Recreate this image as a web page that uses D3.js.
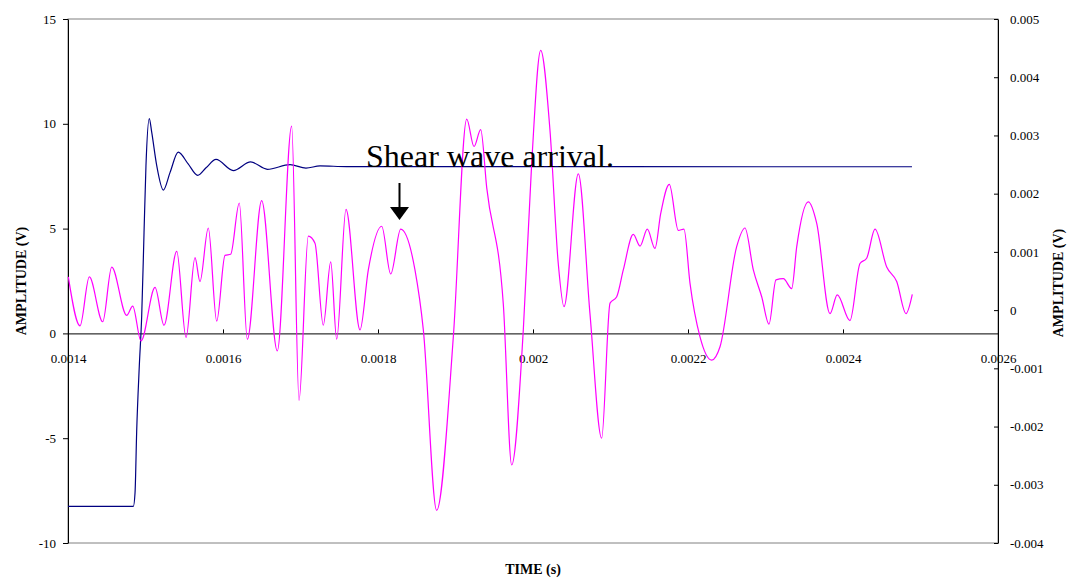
<!DOCTYPE html>
<html>
<head>
<meta charset="utf-8">
<script src="https://cdn.jsdelivr.net/npm/d3@7"></script>
<style>
  body { margin: 0; background: #fff; }
  svg { display: block; font-family: "Liberation Serif", "Times New Roman", serif; }
</style>
</head>
<body>
<div id="chart"></div>
<script>
// Shear wave test: input pulse (blue, left axis) and received signal (magenta, right axis)

// input signal, left axis (V)
const blueTime = [0.0014, 0.0014843, 0.0014865, 0.0014886, 0.0014920, 0.0014951, 0.0014981, 0.0015006,
  0.0015049, 0.0015080, 0.0015145, 0.0015230, 0.0015316, 0.0015423, 0.0015548, 0.0015674, 0.0015781,
  0.0015910, 0.0016133, 0.0016357, 0.0016572, 0.0016865, 0.0017071, 0.0017252, 0.0017596, 0.0024890];
const blueVolt = [-8.25, -8.25, -7.6, -4.7, -1.56, 0.83, 4.8, 8.0,
  10.25, 9.6, 8.0, 6.84, 7.67, 8.65, 8.1, 7.54, 7.9,
  8.3, 7.77, 8.18, 7.83, 8.05, 7.89, 7.99, 7.96, 7.95];

// received signal, right axis (V)
const pinkTime = [0.0014004, 0.0014155, 0.0014275, 0.0014448, 0.0014564, 0.0014757, 0.0014835, 0.0014942,
  0.0015123, 0.0015239, 0.0015403, 0.0015523, 0.0015639, 0.0015703, 0.0015810, 0.0015919, 0.0016026,
  0.0016099, 0.0016210, 0.0016314, 0.0016499, 0.0016701, 0.0016886, 0.0016981, 0.0017101, 0.0017187,
  0.0017294, 0.0017390, 0.0017467, 0.0017587, 0.0017768, 0.0017875, 0.0018048, 0.0018164, 0.0018293,
  0.0018477, 0.0018585, 0.0018757, 0.0018972, 0.0019145, 0.0019239, 0.0019325, 0.0019403, 0.0019617,
  0.0019725, 0.0019875, 0.0019983, 0.0020099, 0.0020219, 0.0020326, 0.0020400, 0.0020585, 0.0020735,
  0.0020886, 0.0020994, 0.0021080, 0.0021165, 0.0021294, 0.0021381, 0.0021475, 0.0021574, 0.0021648,
  0.0021759, 0.0021875, 0.0021948, 0.0022026, 0.0022155, 0.0022306, 0.0022413, 0.0022628, 0.0022735,
  0.0022843, 0.0022951, 0.0023045, 0.0023135, 0.0023230, 0.0023338, 0.0023403, 0.0023552, 0.0023661,
  0.0023832, 0.0023926, 0.0024090, 0.0024219, 0.0024305, 0.0024413, 0.0024564, 0.0024693, 0.0024813,
  0.0024894];
const pinkVolt = [0.00057, -0.00027, 0.00057, -0.00020, 0.00074, -0.00009, 0.00007, -0.00053,
  0.00039, -0.00026, 0.00101, -0.00047, 0.00090, 0.00049, 0.00141, -0.00019, 0.00094,
  0.00096, 0.00184, -0.00050, 0.00188, -0.00070, 0.00316, -0.00155, 0.00127, 0.00115,
  -0.00026, 0.00083, -0.00050, 0.00173, -0.00034, 0.00069, 0.00144, 0.00062, 0.00139,
  0.00069, -0.00034, -0.00344, -0.00046, 0.00328, 0.00281, 0.00310, 0.00210, 0.00010,
  -0.00266, -0.00034, 0.00252, 0.00446, 0.00309, 0.00080, 0.00006, 0.00234, -0.00006,
  -0.00220, 0.00012, 0.00023, 0.00069, 0.00130, 0.00110, 0.00139, 0.00106, 0.00166,
  0.00216, 0.00137, 0.00139, 0.00046, -0.00046, -0.00086, -0.00063, 0.00109, 0.00141,
  0.00069, 0.00023, -0.00024, 0.00052, 0.00054, 0.00037, 0.00109, 0.00186, 0.00149,
  -0.00006, 0.00026, -0.00018, 0.00080, 0.00089, 0.00139, 0.00074, 0.00049, -0.00006,
  0.00027];

// tick values
const timeTicks = [0.0014, 0.0016, 0.0018, 0.002, 0.0022, 0.0024, 0.0026];
const leftTicks = [-10, -5, 0, 5, 10, 15];
const rightTicks = [-0.004, -0.003, -0.002, -0.001, 0, 0.001, 0.002, 0.003, 0.004, 0.005];

const WIDTH = 1071, HEIGHT = 585;
const plot = {left: 68, right: 998, top: 19, bottom: 543};

const svg = d3.select("#chart").append("svg")
  .attr("width", WIDTH)
  .attr("height", HEIGHT);

svg.append("rect").attr("width", WIDTH).attr("height", HEIGHT).attr("fill", "#fff");

// scales
const x = d3.scaleLinear().domain([0.0014, 0.0026]).range([plot.left, plot.right]);
const yL = d3.scaleLinear().domain([-10, 15]).range([plot.bottom, plot.top]);
const yR = d3.scaleLinear().domain([-0.004, 0.005]).range([plot.bottom, plot.top]);

const fmt = d => String(+d.toFixed(4));

// plot area border
svg.append("rect")
  .attr("x", plot.left).attr("y", plot.top)
  .attr("width", plot.right - plot.left).attr("height", plot.bottom - plot.top)
  .attr("fill", "none").attr("stroke", "#808080").attr("stroke-width", 1);

// axes
const gL = svg.append("g").attr("transform", `translate(${plot.left},0)`)
  .call(d3.axisLeft(yL).tickValues(leftTicks).tickFormat(fmt).tickSizeInner(5).tickSizeOuter(0).tickPadding(7));
const gR = svg.append("g").attr("transform", `translate(${plot.right},0)`)
  .call(d3.axisRight(yR).tickValues(rightTicks).tickFormat(fmt).tickSizeInner(-4).tickSizeOuter(0).tickPadding(12));
const gX = svg.append("g").attr("transform", `translate(0,${yL(0)})`)
  .call(d3.axisBottom(x).tickValues(timeTicks).tickFormat(fmt).tickSizeInner(-4).tickSizeOuter(0).tickPadding(20));

[gL, gR, gX].forEach(g => {
  g.attr("font-family", null).attr("font-size", null);
  g.selectAll("text").attr("font-size", 13).attr("fill", "#000");
  g.selectAll("line, path").attr("stroke", "#000");
});

// lines
const linePink = d3.line()
  .x(i => x(pinkTime[i]))
  .y(i => yR(pinkVolt[i]))
  .curve(d3.curveMonotoneX);
const lineBlue = d3.line()
  .x(i => x(blueTime[i]))
  .y(i => yL(blueVolt[i]))
  .curve(d3.curveMonotoneX);

svg.append("path")
  .attr("d", lineBlue(d3.range(blueTime.length)))
  .attr("fill", "none").attr("stroke", "#000080").attr("stroke-width", 1.2);

svg.append("path")
  .attr("d", linePink(d3.range(pinkTime.length)))
  .attr("fill", "none").attr("stroke", "#ff00ff").attr("stroke-width", 1.2);

// axis titles
svg.append("text")
  .attr("transform", `translate(21,${(plot.top + plot.bottom) / 2}) rotate(-90)`)
  .attr("text-anchor", "middle").attr("dominant-baseline", "central")
  .attr("font-size", 14).attr("font-weight", "bold")
  .text("AMPLITUDE (V)");

svg.append("text")
  .attr("transform", `translate(1058,${(plot.top + plot.bottom) / 2 + 2}) rotate(-90)`)
  .attr("text-anchor", "middle").attr("dominant-baseline", "central")
  .attr("font-size", 14).attr("font-weight", "bold")
  .text("AMPLITUDE (V)");

svg.append("text")
  .attr("x", 533).attr("y", 574)
  .attr("text-anchor", "middle")
  .attr("font-size", 14).attr("font-weight", "bold")
  .text("TIME (s)");

// annotation
svg.append("text")
  .attr("x", 366).attr("y", 167)
  .attr("font-size", 32)
  .text("Shear wave arrival.");

svg.append("line")
  .attr("x1", 399.5).attr("x2", 399.5).attr("y1", 183).attr("y2", 210)
  .attr("stroke", "#000").attr("stroke-width", 2);
svg.append("path")
  .attr("d", "M390,207 L409,207 L399.5,220 Z")
  .attr("fill", "#000");
</script>
</body>
</html>
